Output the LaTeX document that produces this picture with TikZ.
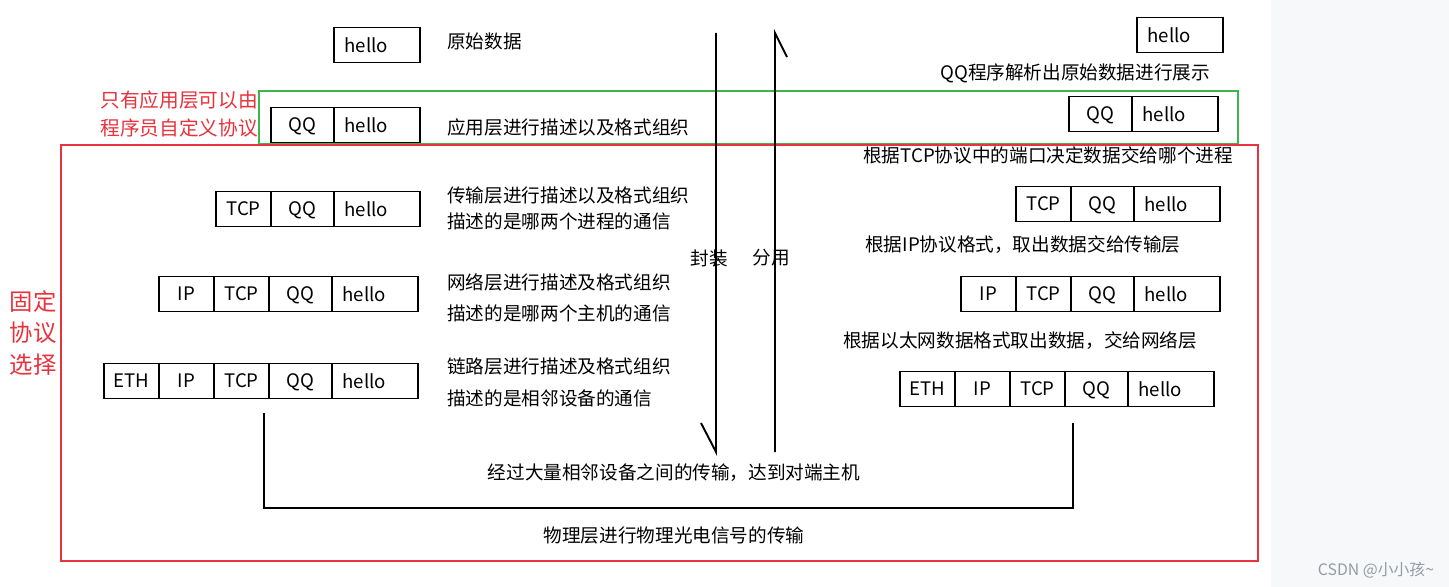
\documentclass[tikz,border=0pt]{standalone}
\usepackage{fontspec}
\setmainfont{Noto Sans CJK SC}
\usepackage{xcolor}
\usepackage{tikz}
\usetikzlibrary{positioning}
\definecolor{framegreen}{RGB}{60,180,80}
\definecolor{framered}{RGB}{232,50,60}
\definecolor{sidegray}{RGB}{247,248,250}
\definecolor{markgray}{RGB}{150,155,162}

\begin{document}
\begin{tikzpicture}[
  x=0.02cm, y=-0.02cm,
  node distance=0pt,
  font=\fontsize{10.6}{13}\selectfont,
  cell/.style={draw, line width=1.1pt, minimum height=0.7cm, inner sep=0pt, outer sep=0pt},
  hellobox/.style={cell, minimum width=1.72cm, text width=1.3cm, align=left},
  qqbox/.style={cell, minimum width=1.26cm, text depth=-0.06cm},
  hdrbox/.style={cell, minimum width=1.1cm},
  desc/.style={anchor=west, inner sep=0pt},
  note/.style={inner sep=0pt, text=framered, align=left}
]
\useasboundingbox (0,0) rectangle (1449,587);
\fill[white] (0,0) rectangle (1449,587);
\fill[sidegray] (1271,0) rectangle (1449,587);

% frames
\draw[framegreen, line width=1.1pt] (259,91) rectangle (1238,144);
\draw[framered, line width=1.2pt] (61,145) rectangle (1258,561);
\node[note, anchor=west, font=\fontsize{11.2}{16}\selectfont] (appnote) at (100,114) {只有应用层可以由\\程序员自定义协议};
\node[note, align=center, font=\fontsize{13.3}{17.9}\selectfont] (fixnote) at (33,333) {固定\\协议\\选择};

% sender side
\node[hellobox, anchor=east] (l1hello) at (420,45) {hello};
\node[hellobox, anchor=east] (l2hello) at (420,125) {hello};
\node[qqbox, left=of l2hello] (l2qq) {QQ};
\node[hellobox, anchor=east] (l3hello) at (420,209) {hello};
\node[qqbox, left=of l3hello] (l3qq) {QQ};
\node[hdrbox, left=of l3qq] (l3tcp) {TCP};
\node[hellobox, anchor=east] (l4hello) at (418,294) {hello};
\node[qqbox, left=of l4hello] (l4qq) {QQ};
\node[hdrbox, left=of l4qq] (l4tcp) {TCP};
\node[hdrbox, left=of l4tcp] (l4ip) {IP};
\node[hellobox, anchor=east] (l5hello) at (418,381) {hello};
\node[qqbox, left=of l5hello] (l5qq) {QQ};
\node[hdrbox, left=of l5qq] (l5tcp) {TCP};
\node[hdrbox, left=of l5tcp] (l5ip) {IP};
\node[hdrbox, left=of l5ip] (l5eth) {ETH};

\node[desc] (l1txt) at (447,41) {原始数据};
\node[desc] (l2txt) at (447,127) {应用层进行描述以及格式组织};
\node[desc] (l3txta) at (447,195) {传输层进行描述以及格式组织};
\node[desc] (l3txtb) at (447,221) {描述的是哪两个进程的通信};
\node[desc] (l4txta) at (447,282) {网络层进行描述及格式组织};
\node[desc] (l4txtb) at (447,313) {描述的是哪两个主机的通信};
\node[desc] (l5txta) at (447,366) {链路层进行描述及格式组织};
\node[desc] (l5txtb) at (447,398) {描述的是相邻设备的通信};

% receiver side
\node[hellobox, anchor=east] (r1hello) at (1223,35) {hello};
\node[hellobox, anchor=east] (r2hello) at (1218,114) {hello};
\node[qqbox, left=of r2hello] (r2qq) {QQ};
\node[hellobox, anchor=east] (r3hello) at (1220,204) {hello};
\node[qqbox, left=of r3hello] (r3qq) {QQ};
\node[hdrbox, left=of r3qq] (r3tcp) {TCP};
\node[hellobox, anchor=east] (r4hello) at (1220,294) {hello};
\node[qqbox, left=of r4hello] (r4qq) {QQ};
\node[hdrbox, left=of r4qq] (r4tcp) {TCP};
\node[hdrbox, left=of r4tcp] (r4ip) {IP};
\node[hellobox, anchor=east] (r5hello) at (1214,389) {hello};
\node[qqbox, left=of r5hello] (r5qq) {QQ};
\node[hdrbox, left=of r5qq] (r5tcp) {TCP};
\node[hdrbox, left=of r5tcp] (r5ip) {IP};
\node[hdrbox, left=of r5ip] (r5eth) {ETH};

\node[desc] (r1txt) at (940,73) {QQ程序解析出原始数据进行展示};
\node[desc] (r3txt) at (863,155) {根据TCP协议中的端口决定数据交给哪个进程};
\node[desc] (r4txt) at (865,245) {根据IP协议格式，取出数据交给传输层};
\node[desc] (r5txt) at (843,341) {根据以太网数据格式取出数据，交给网络层};

% encapsulation / demultiplexing
\coordinate (encTop) at (716,33);
\coordinate (encBot) at (716,452);
\coordinate (demBot) at (775,452);
\coordinate (demTop) at (775,33);
\draw[line width=1.1pt] (encTop) -- (encBot) -- ++(-15,-29);
\draw[line width=1.1pt] (demBot) -- (demTop) -- ++(12,24);
\node (enclbl) at (709,258) {封装};
\node (demlbl) at (771,258) {分用};

% physical link
\coordinate (linkL) at (264,413);
\coordinate (linkR) at (1073,423);
\draw[line width=1.1pt] (linkL) |- (1073,508) -- (linkR);
\node (linktxt) at (674,473) {经过大量相邻设备之间的传输，达到对端主机};
\node (phystxt) at (674,535) {物理层进行物理光电信号的传输};

\node[text=markgray, font=\fontsize{9}{11}\selectfont] (mark) at (1376,570) {CSDN @小小孩\textasciitilde};
\end{tikzpicture}
\end{document}
